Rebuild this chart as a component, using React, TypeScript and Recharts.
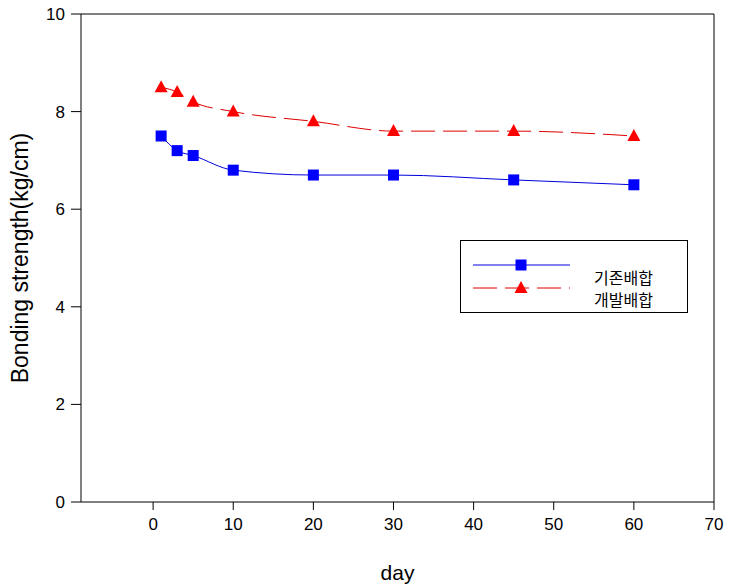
import {
  LineChart,
  XAxis,
  YAxis,
  Line,
  ReferenceLine,
} from 'recharts';

const days = [1, 3, 5, 10, 20, 30, 45, 60];
const existingMix = [7.5, 7.2, 7.1, 6.8, 6.7, 6.7, 6.6, 6.5];
const developedMix = [8.5, 8.4, 8.2, 8.0, 7.8, 7.6, 7.6, 7.5];
const xTicks = [0, 10, 20, 30, 40, 50, 60, 70];
const yTicks = [0, 2, 4, 6, 8, 10];
const seriesNames = ['기존배합', '개발배합'];

const data = days.map((d, i) => ({
  day: d,
  existing: existingMix[i],
  developed: developedMix[i],
}));

const FONT = '"Liberation Sans", Arial, sans-serif';

function SquareDot(props: any) {
  const { cx, cy } = props;
  if (cx == null || cy == null) return null;
  return <rect x={cx - 5.5} y={cy - 5.5} width={11} height={11} fill="#0000ff" />;
}

function TriangleDot(props: any) {
  const { cx, cy } = props;
  if (cx == null || cy == null) return null;
  return (
    <polygon
      points={`${cx},${cy - 7} ${cx - 6.5},${cy + 5} ${cx + 6.5},${cy + 5}`}
      fill="#ff0000"
    />
  );
}

// legend box drawn on top of the chart (Recharts Legend would eat plot space)
function LegendBox() {
  return (
    <svg
      width={229}
      height={74}
      style={{ position: 'absolute', left: 460, top: 240 }}
    >
      <rect x={0.5} y={0.5} width={227} height={72} fill="#fff" stroke="#000" />
      <line x1={13} y1={25} x2={110} y2={25} stroke="#0000dd" strokeWidth={1} />
      <rect x={55.5} y={19.5} width={11} height={11} fill="#0000ff" />
      <line x1={13} y1={48} x2={110} y2={48} stroke="#dd0000" strokeWidth={1} strokeDasharray="24 8" />
      <polygon points="61,41 54.5,53 67.5,53" fill="#ff0000" />
      <text x={134} y={44} fontFamily='"Noto Sans CJK KR", sans-serif' fontSize={16} fill="#000">
        {seriesNames[0]}
      </text>
      <text x={134} y={66} fontFamily='"Noto Sans CJK KR", sans-serif' fontSize={16} fill="#000">
        {seriesNames[1]}
      </text>
    </svg>
  );
}

export default function App() {
  return (
    <div style={{ position: 'absolute', left: 0, top: 0, width: 732, height: 586, background: '#fff' }}>
      <LineChart
        width={732}
        height={586}
        data={data}
        margin={{ top: 14, right: 18, bottom: 0, left: 0 }}
      >
        <XAxis
          dataKey="day"
          type="number"
          domain={[-9, 70]}
          ticks={xTicks}
          allowDataOverflow
          height={84}
          stroke="#000"
          tickSize={8}
          tickMargin={8}
          tick={{ fill: '#000', fontSize: 17, fontFamily: FONT }}
          label={{
            value: 'day',
            position: 'insideBottom',
            offset: 6,
            fill: '#000',
            fontSize: 21,
            fontFamily: FONT,
          }}
        />
        <YAxis
          type="number"
          domain={[0, 10]}
          ticks={yTicks}
          width={81}
          stroke="#000"
          tickSize={10}
          tickMargin={6}
          tick={{ fill: '#000', fontSize: 17, fontFamily: FONT }}
          label={{
            value: 'Bonding strength(kg/cm)',
            angle: -90,
            position: 'insideLeft',
            offset: 20,
            fill: '#000',
            fontSize: 23,
            fontFamily: FONT,
            style: { textAnchor: 'middle' },
          }}
        />
        <ReferenceLine y={10} stroke="#000" strokeWidth={1} />
        <ReferenceLine x={70} stroke="#000" strokeWidth={1} />
        <Line
          dataKey="existing"
          type="monotone"
          stroke="#0000dd"
          strokeWidth={1}
          dot={<SquareDot />}
          activeDot={false}
          isAnimationActive={false}
        />
        <Line
          dataKey="developed"
          type="monotone"
          stroke="#dd0000"
          strokeWidth={1}
          strokeDasharray="24 8"
          dot={<TriangleDot />}
          activeDot={false}
          isAnimationActive={false}
        />
      </LineChart>
      <LegendBox />
    </div>
  );
}
